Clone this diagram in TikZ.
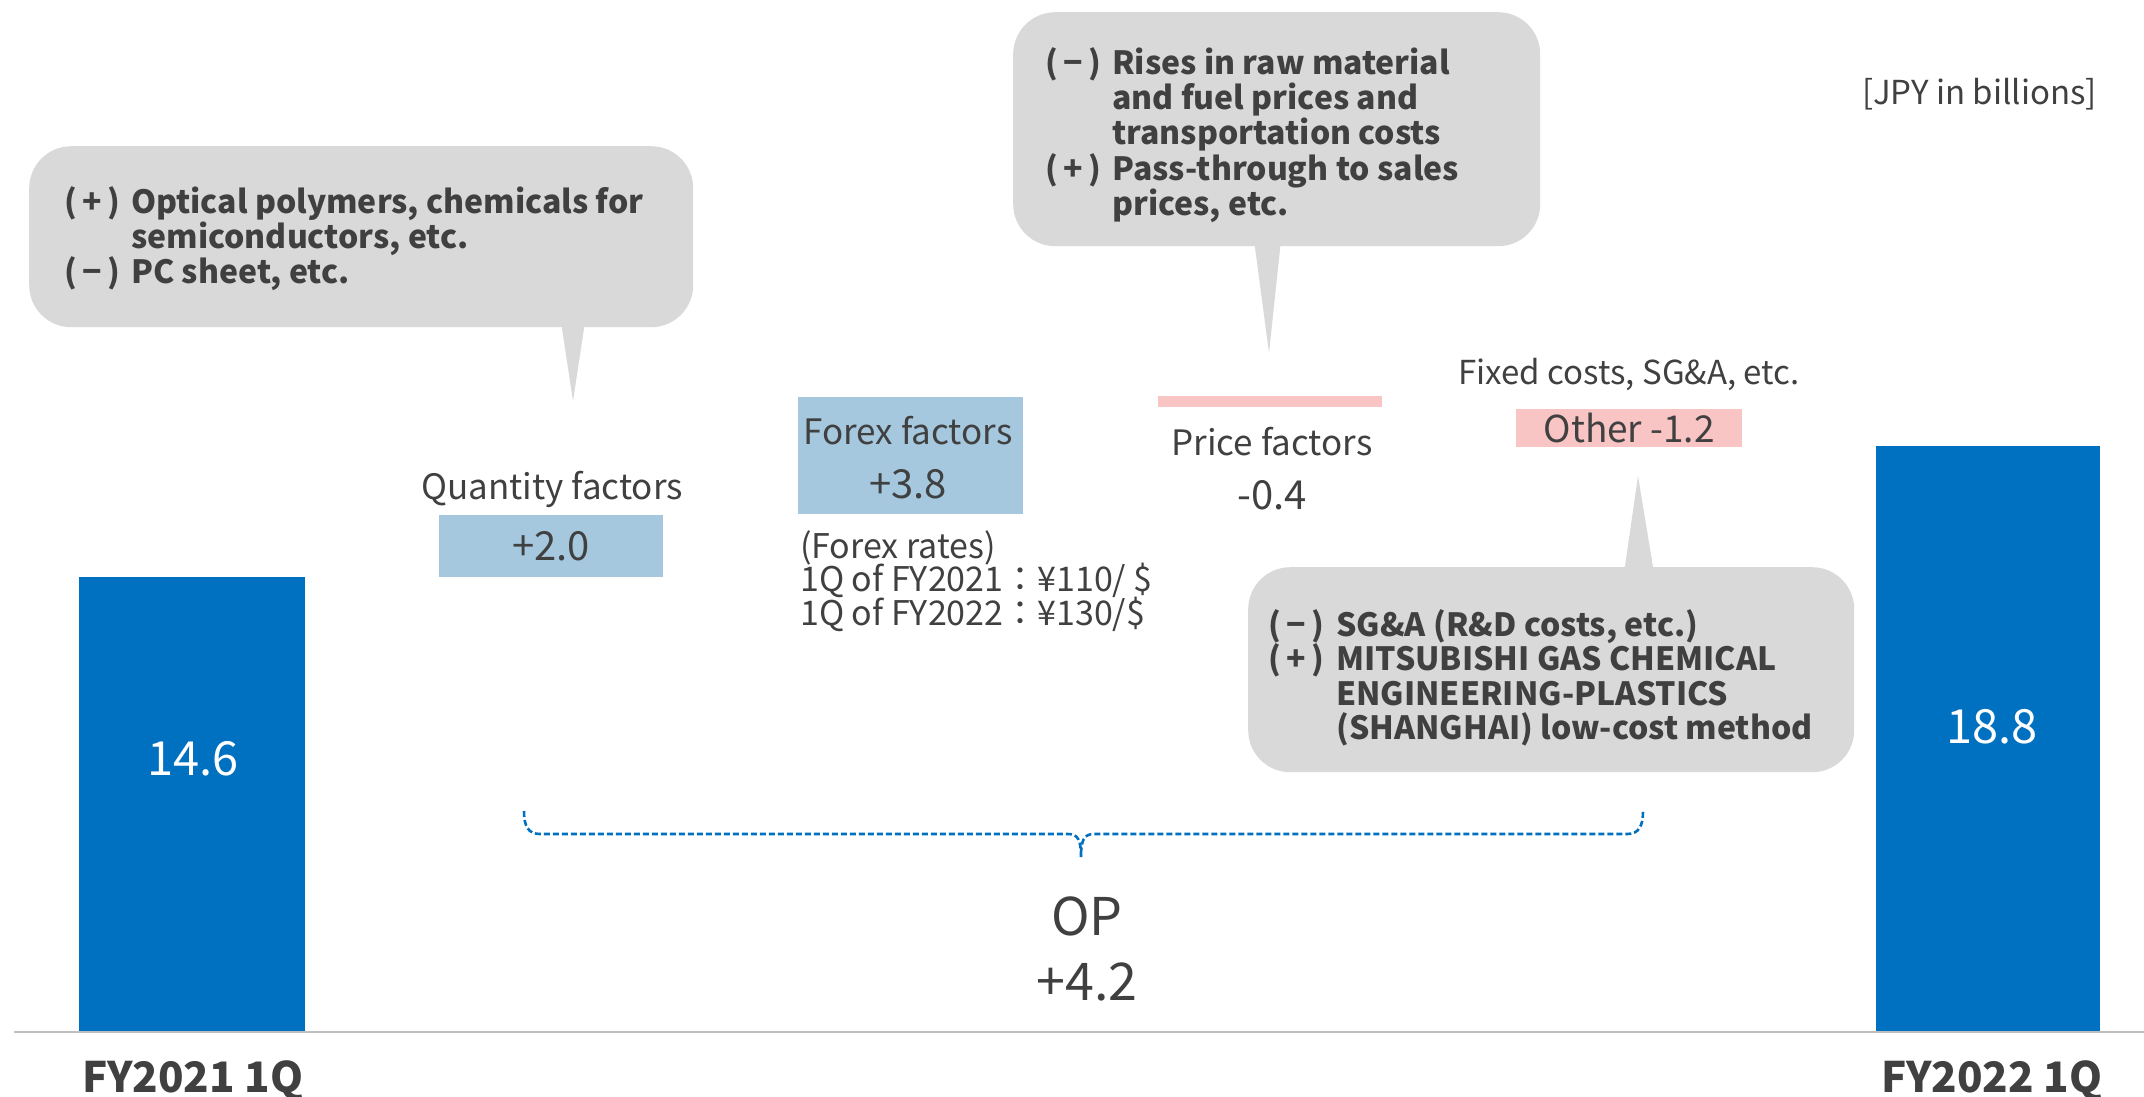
\documentclass[tikz,border=0pt]{standalone}
\usepackage{fontspec}
\setmainfont{Noto Sans CJK JP}
\definecolor{barblue}{HTML}{0070C0}
\definecolor{lblue}{HTML}{A5C8DE}
\definecolor{lpink}{HTML}{F8C4C4}
\definecolor{bub}{HTML}{D9D9D9}
\definecolor{txt}{HTML}{404040}
\definecolor{axisgray}{HTML}{BFBFBF}
\tikzset{
  barnode/.style={fill=barblue, draw=none, inner sep=0pt, anchor=north west},
  bartxt/.style={text=white, font=\fontsize{47}{50}\selectfont, inner sep=0pt},
  cattxt/.style={text=txt, font=\bfseries\fontsize{42}{44}\selectfont, inner sep=0pt},
  lbl/.style={text=txt, font=\fontsize{35}{38}\selectfont, inner sep=0pt},
  val/.style={text=txt, font=\fontsize{40}{44}\selectfont, inner sep=0pt},
  boxnode/.style={draw=none, inner sep=0pt, anchor=north west},
  bubble/.style={fill=bub, draw=none, rounded corners=42pt, inner sep=0pt, anchor=north west},
  bubtxt/.style={text=txt, font=\bfseries\fontsize{32}{35.4}\selectfont, inner sep=0pt, anchor=base west},
  brace/.style={draw=barblue, line width=2.6pt, dash pattern=on 6pt off 3pt},
}
\newcommand{\pl}{(\,+\,)}
\newcommand{\mi}{(\,−\,)}
\newcommand{\tworows}[2]{\vtop{\lineskiplimit=-1000pt\lineskip=0pt\halign{\hbox to #1{##\hfil}&##\hfil\cr#2\crcr}}}
\newcommand{\onerows}[1]{\vtop{\lineskiplimit=-1000pt\lineskip=0pt\halign{##\hfil\cr#1\crcr}}}
\begin{document}
\begin{tikzpicture}[x=1pt,y=-1pt]
\useasboundingbox (0,0) rectangle (2144,1096);
% bars
\node[barnode, minimum width=226pt, minimum height=455pt] (bar1) at (79,577) {};
\node[barnode, minimum width=224pt, minimum height=586pt] (bar2) at (1876,446) {};
\node[bartxt] (v1) at (193,759) {14.6};
\node[bartxt] (v2) at (1992,727) {18.8};
% axis
\coordinate (axL) at (14,1032);
\coordinate (axR) at (2144,1032);
\draw[axisgray, line width=2pt] (axL) -- (axR);
\node[cattxt] (c1) at (193,1081) {FY2021 1Q};
\node[cattxt] (c2) at (1992,1081) {FY2022 1Q};
% factor boxes
\node[boxnode, fill=lblue, minimum width=224pt, minimum height=62pt] (qbox) at (439,515) {};
\node[val] (qval) at (qbox.center) {+2.0};
\node[lbl] (qlbl) at (552,489) {Quantity factors};
\node[boxnode, fill=lblue, minimum width=225pt, minimum height=117pt] (fbox) at (798,397) {};
\node[lbl] (flbl) at (908,431) {Forex factors};
\node[val] (fval) at (908,484) {+3.8};
\node[lbl, anchor=base west, font=\fontsize{34}{33.6}\selectfont] (frates) at (800,558)
  {\onerows{(Forex rates)\cr 1Q of FY2021：¥110/ \$\cr 1Q of FY2022：¥130/\$}};
\node[boxnode, fill=lpink, minimum width=224pt, minimum height=11pt] (pbox) at (1158,396) {};
\node[lbl] (plbl) at (1272,442) {Price factors};
\node[val] (pval) at (1272,495) {-0.4};
\node[lbl, font=\fontsize{33}{36}\selectfont] (olbl) at (1629,374) {Fixed costs, SG\&A, etc.};
\node[boxnode, fill=lpink, minimum width=226pt, minimum height=38pt] (obox) at (1516,409) {};
\node[val, font=\fontsize{37}{40}\selectfont] (oval) at (obox.center) {Other -1.2};
\node[lbl, anchor=east, font=\fontsize{33}{36}\selectfont] (unit) at (2097,94) {[JPY in billions]};
% callout 1
\node[bubble, minimum width=664pt, minimum height=181pt] (b1) at (29,146) {};
\fill[bub] (561,322) -- (573,401) -- (585,322) -- cycle;
\node[bubtxt] (t1) at (64,213) {\tworows{67pt}{\pl & Optical polymers, chemicals for\cr
  & semiconductors, etc.\cr \mi & PC sheet, etc.}};
% callout 2
\node[bubble, minimum width=527pt, minimum height=234pt] (b2) at (1013,12) {};
\fill[bub] (1254,240) -- (1269,353) -- (1281,240) -- cycle;
\node[bubtxt] (t2) at (1045,74) {\tworows{67pt}{\mi & Rises in raw material\cr & and fuel prices and\cr
  & transportation costs\cr \pl & Pass-through to sales\cr & prices, etc.}};
% callout 3
\node[bubble, minimum width=606pt, minimum height=205pt] (b3) at (1248,567) {};
\fill[bub] (1624,573) -- (1638,476) -- (1654,573) -- cycle;
\node[bubtxt, font=\bfseries\fontsize{32}{34.6}\selectfont] (t3) at (1268,636) {\tworows{68pt}{\mi & SG\&A (R\&D costs, etc.)\cr
  \pl & MITSUBISHI GAS CHEMICAL\cr & ENGINEERING-PLASTICS\cr & (SHANGHAI) low-cost method}};
% brace
\coordinate (brL) at (524,811);
\coordinate (brM) at (1081,857);
\coordinate (brR) at (1643,811);
\draw[brace] (brL) .. controls (524,826) and (528,834) .. (540,834) -- (1068,834)
  .. controls (1078,834) and (1081,840) .. (brM)
  .. controls (1081,840) and (1084,834) .. (1094,834) -- (1627,834)
  .. controls (1639,834) and (1643,826) .. (brR);
\node[text=txt, font=\fontsize{52}{56}\selectfont, inner sep=0pt] (op) at (1087,916) {OP};
\node[text=txt, font=\fontsize{52}{56}\selectfont, inner sep=0pt] (opv) at (1087,982) {+4.2};
\end{tikzpicture}
\end{document}
